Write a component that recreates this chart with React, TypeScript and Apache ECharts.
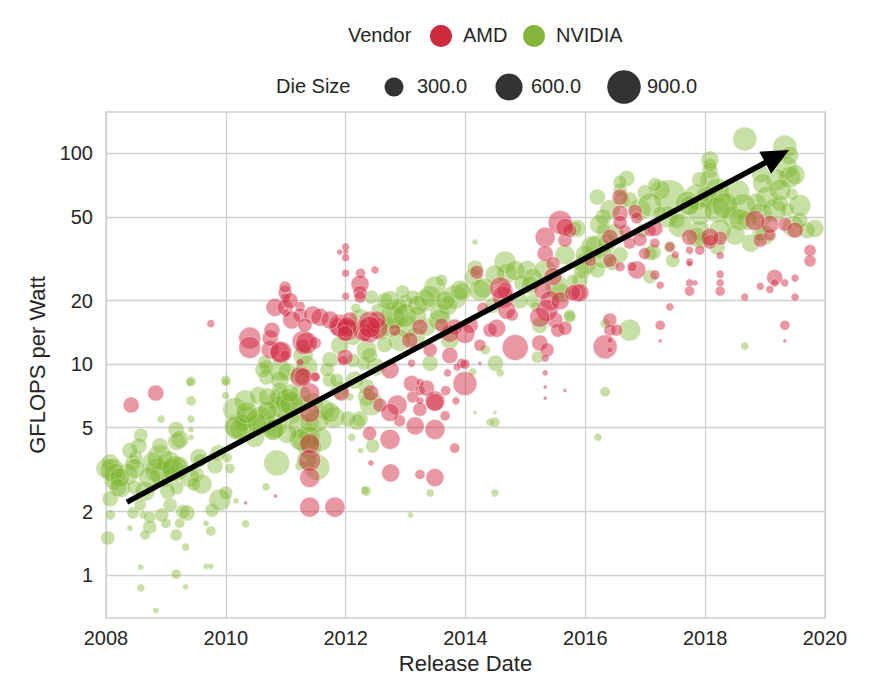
import React, { useEffect, useRef } from "react";
import * as echarts from "echarts";

// ---------- data: [release year, GFLOPS per Watt, die size mm²] ----------
const vendorNames = ["AMD", "NVIDIA"];
const dieSizeLegend = [300, 600, 900];
const yTickValues = [1, 2, 5, 10, 20, 50, 100];
const xRange = [2008, 2020];
const yRange = [0.626, 157];
const arrowStart = [2008.35, 2.22];
const arrowEnd = [2019.4, 103.7];

const nvidiaPoints: number[][] = [
  [2009.4, 8.2, 48], [2010.0, 8.2, 48], [2009.42, 6.7, 76], [2008.92, 5.5, 48], [2009.42, 5.5, 48],
  [2010.0, 7.1, 48], [2008.58, 4.6, 148], [2009.17, 4.9, 194], [2009.18, 4.3, 245], [2009.42, 4.9, 27],
  [2009.42, 4.5, 27], [2010.18, 5.1, 435], [2010.35, 5.6, 366], [2010.5, 5.4, 302], [2010.69, 6.0, 245],
  [2010.8, 6.7, 194], [2010.9, 7.5, 194], [2010.79, 4.9, 302], [2010.85, 3.4, 511], [2011.24, 3.3, 76],
  [2008.12, 2.8, 245], [2008.0, 3.2, 302], [2008.07, 3.4, 245], [2008.45, 3.4, 194], [2008.5, 3.6, 148],
  [2008.78, 3.4, 366], [2008.85, 3.15, 435], [2009.12, 3.15, 366], [2009.23, 3.3, 245], [2009.18, 2.6, 148],
  [2009.28, 2.0, 148], [2009.52, 3.0, 148], [2008.48, 2.6, 148], [2008.45, 1.97, 109], [2008.62, 1.93, 48],
  [2008.73, 1.88, 109], [2008.93, 1.93, 148], [2009.0, 1.76, 76], [2008.73, 1.69, 148], [2008.65, 1.55, 76],
  [2008.4, 1.67, 27], [2008.07, 1.93, 76], [2008.03, 1.5, 148], [2009.23, 1.76, 76], [2009.35, 1.97, 194],
  [2009.17, 1.55, 109], [2009.33, 1.36, 48], [2009.77, 2.03, 148], [2009.9, 2.27, 366], [2010.0, 2.45, 148],
  [2009.75, 1.62, 76], [2009.67, 1.76, 27], [2010.17, 2.25, 27], [2010.33, 1.75, 48], [2010.67, 2.62, 48],
  [2010.07, 3.2, 76], [2010.02, 3.6, 76], [2009.87, 3.8, 194], [2008.58, 1.09, 27], [2008.58, 0.87, 48],
  [2009.17, 1.01, 76], [2009.33, 0.88, 27], [2008.83, 0.68, 27], [2009.67, 1.1, 27], [2009.75, 1.1, 27],
  [2008.35, 3.0, 366], [2008.95, 3.0, 511], [2008.25, 2.6, 302], [2009.55, 3.6, 245], [2009.6, 2.7, 302],
  [2008.55, 4.1, 194], [2008.15, 3.0, 366], [2009.05, 3.4, 435],
  [2008.1, 3.15, 435], [2008.23, 2.9, 302], [2008.48, 3.2, 302], [2008.73, 2.9, 366], [2008.9, 3.6, 511],
  [2009.15, 3.2, 511], [2009.4, 2.9, 302], [2008.2, 2.6, 245], [2008.65, 2.5, 302], [2009.03, 2.5, 194],
  [2009.57, 3.5, 148], [2008.4, 3.9, 194], [2008.9, 4.1, 194], [2009.23, 4.4, 245], [2008.07, 2.3, 194],
  [2008.57, 2.15, 109], [2009.07, 2.15, 148], [2009.47, 2.7, 148], [2009.82, 3.3, 194],
  [2010.15, 6.1, 435], [2010.32, 6.7, 366], [2010.57, 5.4, 593], [2010.82, 5.1, 435], [2011.07, 6.1, 680],
  [2011.24, 5.1, 435], [2011.32, 4.4, 511], [2011.57, 4.4, 435], [2011.65, 6.1, 302], [2010.9, 9.4, 366],
  [2011.24, 7.1, 366], [2010.54, 7.1, 245], [2010.48, 4.5, 302], [2010.25, 4.9, 366],
  [2010.0, 8.4, 76], [2009.42, 8.3, 76], [2010.68, 9.7, 148], [2010.68, 8.7, 194], [2010.65, 10.2, 148],
  [2011.02, 9.2, 245], [2011.24, 8.9, 302], [2010.9, 7.0, 302], [2011.02, 6.7, 435], [2010.9, 6.3, 366],
  [2010.69, 6.0, 302], [2011.45, 6.5, 366], [2011.73, 8.4, 148], [2011.8, 5.6, 366], [2011.52, 5.4, 435],
  [2011.4, 4.5, 366], [2011.4, 4.05, 435], [2011.24, 4.4, 366], [2011.02, 4.7, 302], [2010.79, 4.9, 366],
  [2010.28, 5.26, 245], [2010.18, 5.0, 435], [2010.52, 5.26, 302], [2011.52, 3.25, 511], [2011.35, 3.5, 302],
  [2011.9, 7.5, 245], [2012.83, 17.1, 593], [2013.0, 19.8, 148], [2013.12, 20.8, 148], [2012.74, 15.0, 302],
  [2012.43, 20.8, 148], [2012.17, 18.4, 76], [2012.12, 15.0, 148], [2012.12, 13.4, 194], [2012.35, 11.7, 302],
  [2012.5, 9.7, 245], [2012.3, 10.1, 148], [2012.12, 10.4, 148], [2012.35, 7.0, 245], [2012.35, 7.8, 194],
  [2011.85, 8.4, 148], [2011.69, 9.4, 148], [2011.35, 9.7, 366], [2011.29, 11.0, 302], [2010.9, 8.4, 245],
  [2010.62, 9.4, 194], [2010.69, 7.0, 245], [2010.35, 5.9, 366], [2011.1, 6.5, 435], [2011.07, 7.3, 245],
  [2011.4, 5.3, 302], [2011.74, 5.9, 302], [2012.19, 5.3, 194], [2013.82, 20.8, 435], [2013.49, 23.2, 366],
  [2013.32, 20.0, 366], [2012.79, 16.7, 435], [2013.02, 15.0, 366], [2012.54, 18.0, 148], [2012.9, 18.8, 194],
  [2013.16, 13.4, 302], [2013.35, 15.0, 245], [2013.57, 17.4, 302], [2013.74, 13.0, 245], [2014.13, 25.9, 245],
  [2014.16, 28.5, 194], [2014.33, 11.7, 76], [2014.5, 10.1, 194], [2014.58, 9.1, 48], [2014.12, 9.2, 48],
  [2013.41, 10.1, 194], [2014.16, 38, 27], [2014.66, 30.5, 366], [2014.69, 27.0, 302], [2015.03, 27.8, 302],
  [2015.12, 25.5, 302], [2014.94, 24.3, 194], [2015.12, 20.0, 148], [2015.16, 18.8, 76], [2015.74, 16.7, 109],
  [2016.11, 36, 366], [2015.86, 44, 245], [2015.53, 23.2, 435], [2015.58, 21.8, 302], [2015.91, 25, 194],
  [2015.24, 15.3, 194], [2015.2, 10.8, 109], [2014.16, 5.9, 12], [2014.49, 5.9, 12], [2014.41, 5.3, 48],
  [2014.49, 5.3, 76], [2014.49, 2.45, 48], [2013.41, 2.45, 48], [2013.08, 1.93, 27], [2012.32, 2.53, 48],
  [2012.1, 4.5, 48], [2012.45, 4.1, 148], [2012.24, 5.5, 194], [2012.04, 5.5, 194], [2012.07, 7.0, 48],
  [2012.43, 6.5, 435], [2012.34, 2.5, 76], [2012.25, 3.9, 27], [2016.21, 4.5, 48],
  [2013.7, 19, 302], [2013.95, 22, 245], [2014.3, 23, 302], [2014.45, 19, 194], [2013.2, 17, 245],
  [2012.65, 20, 194], [2012.95, 22, 148], [2013.6, 25, 109],
  [2012.24, 16.2, 366], [2012.57, 14.5, 302], [2012.74, 20, 302], [2012.99, 17, 435], [2013.2, 19, 302],
  [2013.41, 21, 366], [2013.66, 20, 302], [2013.91, 22.4, 302], [2013.57, 16.2, 366], [2012.9, 13, 366],
  [2012.65, 12.4, 194], [2011.9, 12.3, 245], [2011.74, 10.5, 194], [2012.15, 8.4, 245], [2012.4, 11, 194],
  [2014.24, 22.4, 366], [2014.49, 26.5, 302], [2014.83, 27.8, 302], [2015.08, 23.7, 245], [2015.33, 27.8, 366],
  [2014.91, 20, 194], [2015.66, 33, 302], [2016.0, 30, 366],
  [2018.66, 117, 435], [2019.33, 107, 435], [2019.41, 98, 245], [2019.36, 86, 366], [2019.41, 77, 366],
  [2019.2, 75, 366], [2018.92, 80, 245], [2018.96, 72, 302], [2019.03, 62, 366], [2018.86, 58, 302],
  [2019.25, 58, 194], [2019.45, 64, 109], [2019.37, 54, 148], [2019.47, 45, 366], [2019.7, 43, 194],
  [2019.83, 44, 245], [2019.58, 48, 194], [2018.08, 93, 245], [2018.08, 83, 194], [2018.08, 75, 302],
  [2018.2, 67, 435], [2018.2, 60, 593], [2018.03, 62, 366], [2017.86, 62, 511], [2017.91, 52, 435],
  [2018.2, 54, 511], [2018.53, 65, 511], [2018.63, 56, 511], [2018.46, 50, 366], [2018.7, 48, 302],
  [2018.76, 37.5, 245], [2018.92, 42, 194], [2017.91, 43, 302], [2017.96, 38.7, 194], [2018.2, 36, 194],
  [2017.86, 40, 302], [2017.41, 63, 774], [2017.25, 67, 302], [2017.16, 71, 148], [2017.0, 65, 194],
  [2017.36, 50, 366], [2017.53, 48, 194], [2017.25, 52, 148], [2016.69, 76, 194], [2016.61, 60, 194],
  [2016.41, 54, 302], [2016.3, 50, 194], [2016.3, 43, 148], [2016.58, 67, 148], [2016.19, 36, 435],
  [2016.36, 37.5, 245], [2016.96, 43, 148], [2017.08, 33.5, 148], [2017.46, 31, 148], [2017.41, 36, 109],
  [2017.08, 26, 148], [2016.74, 14.5, 366], [2016.33, 15.6, 76], [2016.33, 7.4, 76], [2018.66, 12.2, 48],
  [2015.74, 17, 109], [2015.83, 44, 148], [2016.0, 33, 302], [2015.95, 28, 245], [2016.2, 28, 194],
  [2016.45, 30, 148], [2017.7, 58, 435], [2016.3, 32, 366], [2016.58, 33, 194], [2017.13, 34, 194],
  [2015.79, 25, 109], [2016.2, 62, 194],
  [2016.91, 54, 366], [2016.74, 60, 194], [2017.08, 57, 435], [2017.58, 45.5, 435], [2017.74, 56.5, 302],
  [2018.33, 56.5, 511], [2018.58, 48.5, 366], [2018.92, 51, 435], [2019.16, 54, 435], [2019.25, 67, 366],
  [2019.5, 79, 302], [2019.58, 56.5, 366], [2018.25, 43, 366], [2018.5, 41, 302], [2019.0, 41, 302],
  [2017.91, 75, 194], [2018.08, 88, 148], [2016.24, 46, 302], [2016.49, 42, 245], [2016.58, 73, 148],
];

const amdPoints: number[][] = [
  [2008.42, 6.4, 194], [2008.83, 7.3, 194], [2010.33, 2.2, 12], [2010.83, 2.37, 12], [2009.75, 15.6, 48],
  [2010.99, 21.9, 148], [2010.99, 23.2, 109], [2010.99, 20.6, 76], [2010.82, 18.6, 245], [2010.99, 18.6, 194],
  [2011.0, 17.5, 48], [2011.24, 18.8, 76], [2011.24, 17.1, 148], [2011.45, 17.1, 245], [2011.57, 16.7, 245],
  [2010.4, 13.3, 366], [2010.4, 12.0, 366], [2010.74, 11.7, 245], [2010.9, 11.4, 302], [2010.99, 11.0, 76],
  [2011.29, 12.8, 366], [2011.29, 12.1, 194], [2011.49, 12.6, 109], [2011.24, 10.2, 48], [2011.24, 8.7, 302],
  [2011.4, 7.3, 302], [2011.4, 5.9, 302], [2011.4, 4.2, 302], [2011.4, 3.5, 366], [2011.4, 2.9, 302],
  [2011.4, 2.1, 302], [2011.82, 2.1, 302], [2011.9, 15.3, 366], [2012.02, 14.5, 366], [2011.95, 10.4, 76],
  [2011.93, 7.3, 194], [2011.5, 8.7, 48], [2012.0, 36, 48], [2012.0, 34, 27], [2012.0, 32, 48],
  [2011.9, 34, 27], [2012.0, 27, 48], [2012.49, 28, 48], [2012.25, 27, 76], [2012.24, 24, 245],
  [2012.24, 21.9, 148], [2012.24, 20.8, 109], [2012.0, 21, 48], [2011.9, 15, 302], [2012.3, 14.5, 366],
  [2012.4, 15.8, 366], [2012.4, 14.1, 302], [2012.52, 14.8, 366], [2011.35, 12.6, 366], [2010.92, 11.4, 366],
  [2010.74, 13.3, 194], [2011.99, 10.8, 194], [2012.74, 9.4, 245], [2012.86, 6.4, 302], [2013.12, 7.0, 109],
  [2013.1, 10.1, 48], [2011.29, 8.7, 245], [2011.49, 8.7, 76],
  [2011.07, 20, 194], [2011.1, 16.2, 245], [2011.32, 15.3, 148], [2010.77, 14.5, 194], [2011.74, 16.2, 245],
  [2012.07, 16.2, 194], [2012.32, 13.8, 148], [2012.82, 14.5, 109], [2013.07, 13, 194], [2013.41, 11.7, 148],
  [2013.74, 11, 194], [2014.08, 15.3, 194], [2014.24, 12.3, 109], [2014.41, 14.5, 148], [2014.66, 22.4, 194],
  [2014.78, 17.1, 109], [2013.24, 6.1, 148], [2012.9, 5.4, 109], [2012.57, 6.4, 148], [2013.66, 5.7, 76],
  [2015.49, 16.2, 194], [2015.66, 38.7, 148], [2016.08, 31, 109], [2016.41, 31, 148], [2016.66, 43, 109],
  [2017.08, 43, 109], [2017.91, 34.7, 76], [2018.92, 38.7, 148], [2019.08, 41, 109], [2019.33, 46, 148],
  [2015.58, 47, 435], [2015.74, 43, 148], [2015.33, 40, 302], [2015.33, 33.5, 194], [2015.46, 30, 148],
  [2015.46, 26, 245], [2015.29, 22.5, 245], [2015.41, 20, 302], [2015.36, 18, 366], [2015.24, 16.7, 302],
  [2015.58, 20, 245], [2015.86, 21.8, 245], [2015.54, 14.5, 148], [2015.24, 12.6, 194], [2015.36, 11.7, 148],
  [2015.33, 10.7, 48], [2015.33, 9.1, 27], [2015.33, 7.8, 12], [2015.33, 6.9, 12], [2015.66, 7.5, 12],
  [2014.63, 20.8, 366], [2014.58, 23, 366], [2014.69, 18, 245], [2014.52, 14.8, 245], [2014.83, 12, 511],
  [2014.19, 27.3, 148], [2014.29, 18.4, 109], [2013.99, 14, 302], [2013.82, 15, 194], [2013.74, 14, 245],
  [2013.6, 15.3, 148], [2013.24, 15, 194], [2012.52, 16.2, 245], [2012.4, 15, 366], [2012.02, 15, 302],
  [2011.99, 14, 194], [2013.1, 8.1, 194], [2013.24, 8.2, 48], [2013.24, 7.5, 76], [2013.35, 7.7, 194],
  [2013.49, 6.7, 302], [2013.24, 6.7, 48], [2013.16, 5.1, 245], [2013.49, 4.9, 302], [2012.74, 4.4, 302],
  [2012.74, 5.9, 245], [2012.4, 4.7, 148], [2012.42, 7.3, 194], [2013.82, 4.0, 76], [2012.75, 3.05, 245],
  [2013.24, 3.0, 76], [2013.49, 2.9, 245], [2013.99, 8.1, 435], [2013.94, 10.1, 76], [2013.86, 9.7, 48],
  [2013.99, 10, 76], [2013.7, 9.1, 48], [2013.84, 6.7, 48], [2014.24, 10.1, 12], [2012.42, 3.4, 27],
  [2013.67, 7.5, 76], [2013.49, 6.6, 245],
  [2015.66, 44.6, 245], [2016.58, 62, 194], [2016.58, 52, 194], [2016.83, 53, 148], [2016.86, 49.4, 109],
  [2016.41, 40, 194], [2016.74, 37.5, 109], [2016.91, 39, 148], [2016.99, 33.5, 109], [2017.16, 37.5, 76],
  [2017.16, 44, 194], [2016.86, 28, 245], [2016.58, 29, 76], [2016.78, 29, 76], [2017.25, 23.7, 48],
  [2017.16, 26.5, 76], [2017.5, 33, 48], [2015.91, 21.8, 245], [2016.41, 16.2, 148], [2016.41, 14.5, 109],
  [2016.52, 14.5, 109], [2016.33, 12.1, 435], [2016.41, 13, 27], [2016.41, 11.7, 27], [2017.41, 18.7, 48],
  [2017.25, 15.3, 76], [2017.25, 12.9, 12], [2017.74, 34.7, 48], [2017.74, 30.5, 48], [2017.83, 24.3, 27],
  [2017.74, 24.3, 48], [2017.74, 22.2, 76], [2018.25, 32.8, 48], [2018.25, 26.7, 48], [2018.25, 24.3, 48],
  [2018.25, 22.2, 76], [2018.66, 20.8, 48], [2018.92, 23.4, 48], [2019.08, 22.6, 48], [2019.16, 25.8, 194],
  [2019.16, 24.3, 48], [2019.33, 24.3, 48], [2019.5, 25.6, 48], [2019.5, 20.8, 48], [2019.33, 15.3, 76],
  [2019.33, 12.9, 12], [2019.75, 34.6, 109], [2019.75, 30.9, 109], [2019.5, 43.2, 194], [2019.08, 46, 245],
  [2018.83, 48, 302], [2018.08, 38, 148], [2017.74, 40, 194], [2018.25, 39.6, 148], [2018.08, 40, 245],
  [2017.74, 30, 27], [2015.79, 21.8, 194], [2016.58, 47, 148], [2017.41, 36, 76], [2015.66, 14.8, 148],
];

// ---------- styling ----------
const FONT = "'Liberation Sans', Arial, Helvetica, sans-serif";
const TEXT = "#262626";
const AMD_COLOR = "#d1263f";
const NV_COLOR = "#7db52c";
const AMD_LEGEND = "#cd2a3d";
const NV_LEGEND = "#84b53a";
const GRID_COLOR = "#d0d0d0";

const sizeOf = (die: number) => 1.15 * Math.sqrt(die);
const lg = (v: number) => Math.log10(v);

export default function App() {
  const ref = useRef<HTMLDivElement>(null);

  useEffect(() => {
    document.body.style.margin = "0";
    if (!ref.current) return;
    const chart = echarts.init(ref.current, undefined, { renderer: "svg" });

    const toSeries = (pts: number[][]) => pts.map(([yr, g, die]) => [yr, lg(g), die]);

    const legendGraphics: any[] = [
      { type: "text", left: 348, top: 25, style: { text: "Vendor", font: `20px ${FONT}`, fill: TEXT } },
      { type: "circle", shape: { cx: 441, cy: 36, r: 11 }, style: { fill: AMD_LEGEND } },
      { type: "text", left: 463, top: 25, style: { text: vendorNames[0], font: `20px ${FONT}`, fill: TEXT } },
      { type: "circle", shape: { cx: 534, cy: 36, r: 11 }, style: { fill: NV_LEGEND } },
      { type: "text", left: 556, top: 25, style: { text: vendorNames[1], font: `20px ${FONT}`, fill: TEXT } },
      { type: "text", left: 276, top: 76, style: { text: "Die Size", font: `20px ${FONT}`, fill: TEXT } },
    ];
    const dieCx = [394, 509, 624];
    const dieTx = [417, 531, 647];
    dieSizeLegend.forEach((d, i) => {
      legendGraphics.push({
        type: "circle",
        shape: { cx: dieCx[i], cy: 87, r: sizeOf(d) / 2 - 0.5 },
        style: { fill: "#333333" },
      });
      legendGraphics.push({
        type: "text",
        left: dieTx[i],
        top: 76,
        style: { text: d.toFixed(1), font: `20px ${FONT}`, fill: TEXT },
      });
    });

    const option: any = {
      animation: false,
      backgroundColor: "#ffffff",
      textStyle: { fontFamily: FONT },
      grid: {
        left: 106,
        right: 49,
        top: 112,
        bottom: 80,
        show: true,
        borderColor: GRID_COLOR,
        borderWidth: 1.3,
        backgroundColor: "#ffffff",
      },
      xAxis: {
        type: "value",
        min: xRange[0],
        max: xRange[1],
        interval: 2,
        name: "Release Date",
        nameLocation: "middle",
        nameGap: 32,
        nameTextStyle: { fontSize: 22, color: TEXT, fontFamily: FONT, verticalAlign: "top" },
        axisLine: { show: false },
        axisTick: { show: false },
        axisLabel: { fontSize: 20, color: TEXT, fontFamily: FONT, margin: 10, formatter: (v: number) => String(v) },
        splitLine: { show: true, lineStyle: { color: GRID_COLOR, width: 1.3 } },
      },
      yAxis: {
        type: "value",
        min: lg(yRange[0]),
        max: lg(yRange[1]),
        name: "GFLOPS per Watt",
        nameLocation: "middle",
        nameGap: 52,
        nameRotate: 90,
        nameTextStyle: { fontSize: 22, color: TEXT, fontFamily: FONT },
        axisLine: { show: false },
        axisTick: { show: false, customValues: yTickValues.map(lg) },
        axisLabel: {
          fontSize: 20,
          color: TEXT,
          fontFamily: FONT,
          margin: 13,
          customValues: yTickValues.map(lg),
          formatter: (v: number) => String(Math.round(Math.pow(10, v))),
        },
        splitLine: { show: true, lineStyle: { color: GRID_COLOR, width: 1.3 } },
      },
      graphic: legendGraphics,
      series: [
        {
          name: vendorNames[1],
          type: "scatter",
          data: toSeries(nvidiaPoints),
          symbolSize: (val: number[]) => sizeOf(val[2]),
          itemStyle: { color: NV_COLOR, opacity: 0.42, borderColor: "#ffffff", borderWidth: 0.8 },
          z: 2,
        },
        {
          name: vendorNames[0],
          type: "scatter",
          data: toSeries(amdPoints),
          symbolSize: (val: number[]) => sizeOf(val[2]),
          itemStyle: { color: AMD_COLOR, opacity: 0.48, borderColor: "#ffffff", borderWidth: 0.8 },
          z: 3,
        },
        {
          type: "custom",
          z: 10,
          clip: false,
          data: [[arrowStart[0], lg(arrowStart[1]), arrowEnd[0], lg(arrowEnd[1])]],
          encode: { x: [0, 2], y: [1, 3] },
          renderItem: (params: any, api: any) => {
            const p0 = api.coord([api.value(0), api.value(1)]);
            const p1 = api.coord([api.value(2), api.value(3)]);
            const dx = p1[0] - p0[0];
            const dy = p1[1] - p0[1];
            const len = Math.sqrt(dx * dx + dy * dy);
            const ux = dx / len;
            const uy = dy / len;
            const headL = 27;
            const headW = 12.5;
            const bx = p1[0] - ux * headL;
            const by = p1[1] - uy * headL;
            return {
              type: "group",
              children: [
                {
                  type: "line",
                  shape: { x1: p0[0], y1: p0[1], x2: bx + ux * 2, y2: by + uy * 2 },
                  style: { stroke: "#000000", lineWidth: 5.5 },
                },
                {
                  type: "polygon",
                  shape: {
                    points: [
                      [p1[0], p1[1]],
                      [bx - uy * headW, by + ux * headW],
                      [bx + uy * headW, by - ux * headW],
                    ],
                  },
                  style: { fill: "#000000" },
                },
              ],
            };
          },
        },
      ],
    };

    chart.setOption(option);
    return () => chart.dispose();
  }, []);

  return <div ref={ref} style={{ width: 874, height: 698 }} />;
}
